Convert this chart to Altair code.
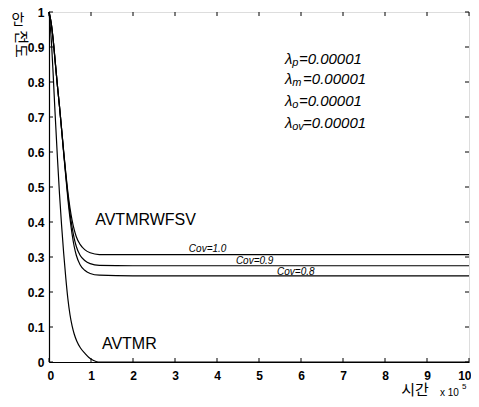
import altair as alt
import pandas as pd

# ---- data (x in units of 10^5) ----
avtmr_x = [0, 0.03, 0.06, 0.1, 0.143, 0.2, 0.25, 0.3, 0.35, 0.4, 0.45, 0.5, 0.55, 0.6, 0.66, 0.75, 0.86, 0.95, 1.05, 1.17, 2, 10]
avtmr_y = [1.0, 0.96, 0.91, 0.82, 0.715, 0.585, 0.48, 0.39, 0.31, 0.24, 0.18, 0.135, 0.103, 0.08, 0.06, 0.04, 0.024, 0.013, 0.005, 0.0, 0.0, 0.0]

fsv_x = [0, 0.05, 0.1, 0.15, 0.2, 0.25, 0.3, 0.35, 0.4, 0.45, 0.5, 0.55, 0.6, 0.65, 0.74, 0.85, 0.98, 1.2, 2, 10]
cov10_y = [1.0, 0.97, 0.92, 0.855, 0.79, 0.73, 0.665, 0.6, 0.54, 0.485, 0.44, 0.405, 0.378, 0.358, 0.336, 0.321, 0.312, 0.307, 0.307, 0.307]
cov09_y = [1.0, 0.97, 0.92, 0.855, 0.79, 0.73, 0.665, 0.6, 0.535, 0.475, 0.425, 0.385, 0.353, 0.33, 0.305, 0.29, 0.281, 0.276, 0.275, 0.275]
cov08_y = [1.0, 0.97, 0.92, 0.855, 0.79, 0.73, 0.665, 0.595, 0.53, 0.465, 0.41, 0.365, 0.33, 0.305, 0.278, 0.262, 0.253, 0.248, 0.246, 0.246]

x_ticks = list(range(0, 11))
y_ticks = [round(i * 0.1, 1) for i in range(0, 11)]

lam_main = ["λ", "λ", "λ", "λ"]
lam_sub = ["p", "m", "o", "ov"]
lam_val = ["=0.00001", "=0.00001", "=0.00001", "=0.00001"]
lam_y = [0.867, 0.810, 0.745, 0.683]
lam_x = [5.62, 5.62, 5.62, 5.62]
lam_sub_x = [5.79, 5.79, 5.79, 5.79]
lam_val_x = [5.95, 6.05, 5.95, 6.05]

cov_text = ["Cov=1.0", "Cov=0.9", "Cov=0.8"]
cov_x = [3.33, 4.45, 5.43]
cov_y = [0.322, 0.289, 0.258]

name_text = ["AVTMRWFSV", "AVTMR"]
name_x = [1.1, 1.26]
name_y = [0.405, 0.052]

W, H = 420, 350

rows = []
for xv, yv in zip(avtmr_x, avtmr_y):
    rows.append({"x": xv, "y": yv, "s": "AVTMR"})
for name, ys_ in [("Cov=1.0", cov10_y), ("Cov=0.9", cov09_y), ("Cov=0.8", cov08_y)]:
    for xv, yv in zip(fsv_x, ys_):
        rows.append({"x": xv, "y": yv, "s": name})
curves = pd.DataFrame(rows)

xs = alt.Scale(domain=[0, 10], nice=False, zero=False)
ys = alt.Scale(domain=[0, 1], nice=False, zero=False)

AX = alt.Axis(values=x_ticks, title=None, tickSize=0, grid=False,
              labelFont="Liberation Sans", labelFontWeight="bold",
              labelFontSize=12, labelColor="black", labelPadding=8,
              labelOverlap=False, labelFlush=True, labelFlushOffset=2,
              domainColor="black", domainWidth=1.2)
AY = alt.Axis(values=y_ticks, title=None, tickSize=0, grid=False,
              labelFont="Liberation Sans", labelFontWeight="bold",
              labelFontSize=12, labelColor="black", labelPadding=5,
              labelOverlap=False, labelFlush=False,
              domainColor="black", domainWidth=1.2,
              labelExpr="datum.value == 1 ? '1' : datum.value == 0 ? '0' : format(datum.value, '.1f')")


def X(field):
    return alt.X(field, scale=xs, axis=AX)


def Y(field):
    return alt.Y(field, scale=ys, axis=AY)


lines = alt.Chart(curves).mark_line(color="black", strokeWidth=1.2, interpolate="monotone").encode(
    x=X("x:Q"), y=Y("y:Q"), detail="s:N", order="x:Q")

xt = pd.DataFrame({"x": x_ticks})
yt = pd.DataFrame({"y": y_ticks})
tick_bot = alt.Chart(xt).mark_rule(color="black").encode(x=X("x:Q"), y=alt.value(H), y2=alt.value(H - 4))
tick_top = alt.Chart(xt).mark_rule(color="black").encode(x=X("x:Q"), y=alt.value(0), y2=alt.value(4))
tick_left = alt.Chart(yt).mark_rule(color="black").encode(y=Y("y:Q"), x=alt.value(0), x2=alt.value(4))
tick_right = alt.Chart(yt).mark_rule(color="black").encode(y=Y("y:Q"), x=alt.value(W), x2=alt.value(W - 4))

lam_df = pd.DataFrame({"x": lam_x, "y": lam_y, "t": lam_main, "sx": lam_sub_x, "st": lam_sub,
                       "vx": lam_val_x, "vt": lam_val})
lam1 = alt.Chart(lam_df).mark_text(font="Liberation Sans", fontStyle="italic", fontSize=15, align="left",
                                   baseline="middle", color="black").encode(
    x=X("x:Q"), y=Y("y:Q"), text="t:N")
lam2 = alt.Chart(lam_df).mark_text(font="Liberation Sans", fontStyle="italic", fontSize=11, align="left",
                                   baseline="middle", color="black", dy=4).encode(
    x=X("sx:Q"), y=Y("y:Q"), text="st:N")
lam3 = alt.Chart(lam_df).mark_text(font="Liberation Sans", fontStyle="italic", fontSize=15, align="left",
                                   baseline="middle", color="black").encode(
    x=X("vx:Q"), y=Y("y:Q"), text="vt:N")

cov_df = pd.DataFrame({"x": cov_x, "y": cov_y, "t": cov_text})
cov = alt.Chart(cov_df).mark_text(font="Liberation Sans", fontStyle="italic", fontSize=10, align="left",
                                  baseline="middle", color="black").encode(
    x=X("x:Q"), y=Y("y:Q"), text="t:N")

nm_df = pd.DataFrame({"x": name_x, "y": name_y, "t": name_text})
names = alt.Chart(nm_df).mark_text(font="Liberation Sans", fontSize=16, align="left",
                                   baseline="middle", color="black").encode(
    x=X("x:Q"), y=Y("y:Q"), text="t:N")

one = pd.DataFrame({"k": [0]})
ytitle1 = alt.Chart(one).mark_text(text="안", font="Noto Sans CJK KR", fontSize=14, color="black",
                                   align="center", baseline="middle").encode(x=alt.value(-31), y=alt.value(8))
ytitle2 = alt.Chart(one).mark_text(text="전도", font="Noto Sans CJK KR", fontSize=15, color="black",
                                   align="center", baseline="middle", angle=90).encode(x=alt.value(-28), y=alt.value(32))
xtitle = alt.Chart(one).mark_text(text="시간", font="Noto Sans CJK KR", fontSize=15, color="black",
                                  align="center", baseline="middle").encode(x=alt.value(366), y=alt.value(378))
xexp = alt.Chart(one).mark_text(text="x 10", font="Liberation Sans", fontSize=10, color="black",
                                align="left", baseline="middle").encode(x=alt.value(391), y=alt.value(381))
xexp5 = alt.Chart(one).mark_text(text="5", font="Liberation Sans", fontSize=8, color="black",
                                 align="left", baseline="middle").encode(x=alt.value(413), y=alt.value(375))

chart = alt.layer(lines, tick_bot, tick_top, tick_left, tick_right, lam1, lam2, lam3, cov, names,
                  ytitle1, ytitle2, xtitle, xexp, xexp5).properties(
    width=W, height=H,
    autosize=alt.AutoSizeParams(type="none"),
    padding={"left": 41, "top": 4, "right": 2, "bottom": 37},
).configure_view(stroke="black", strokeWidth=1.2).configure(background="white")

chart.save("out.html", embed_options={"renderer": "svg", "actions": False})
